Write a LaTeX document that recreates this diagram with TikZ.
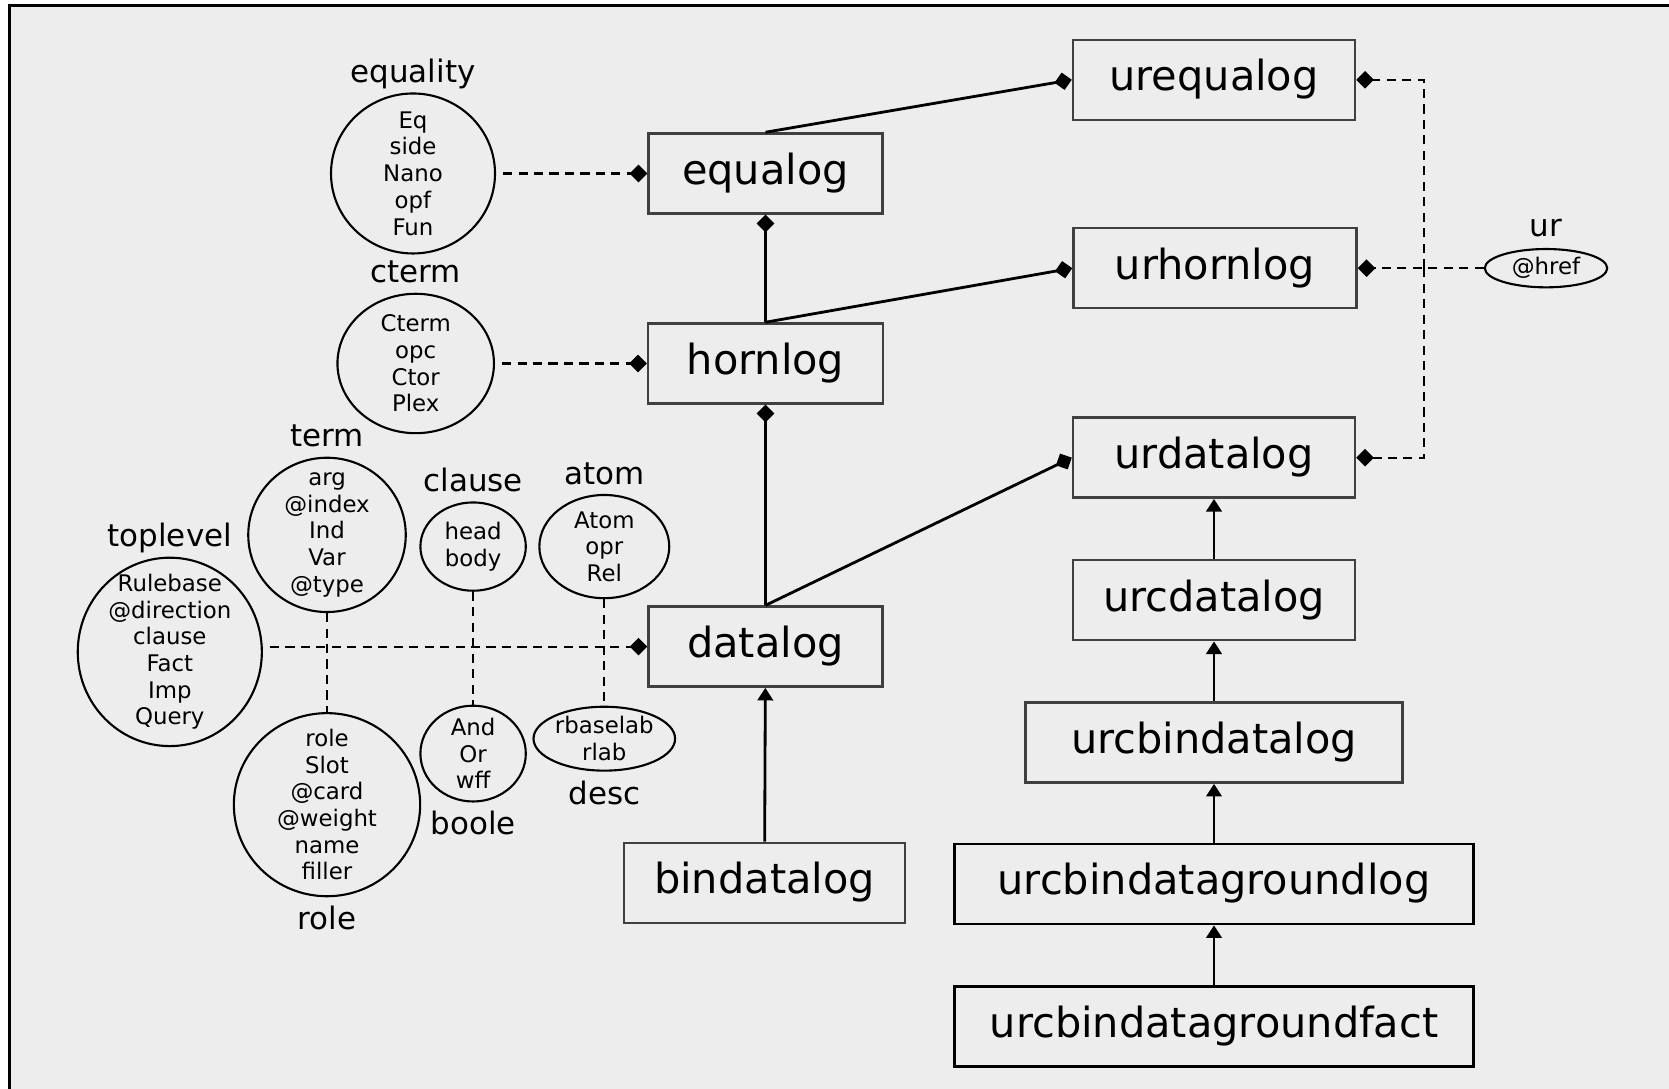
\documentclass[tikz,border=0pt]{standalone}
\usepackage{fontspec}
\setmainfont{DejaVu Sans}
\usetikzlibrary{positioning,arrows.meta,shapes.geometric}
\definecolor{bggray}{RGB}{237,237,237}

\begin{document}
\begin{tikzpicture}[
    logbox/.style={
        draw=black!75, line width=.7pt, fill=bggray, minimum height=.8cm,
        inner sep=0pt, font=\fontsize{11.8pt}{14pt}\selectfont,
        text height=9pt, text depth=2.8pt,
    },
    attrset/.style={
        draw, ellipse, line width=.6pt, inner sep=0pt,
    },
    attrtext/.style={
        align=center, inner sep=0pt, font=\fontsize{6.5pt}{7.6pt}\selectfont,
    },
    setname/.style={
        inner sep=.5pt, font=\fontsize{8.8pt}{10pt}\selectfont,
        text height=6.7pt, text depth=2.1pt,
    },
    part/.style={
        -{Diamond[length=5pt,width=5pt]}, line width=.8pt,
    },
    dashpart/.style={
        -{Diamond[length=5pt,width=5pt]}, line width=.6pt,
        dash pattern=on 2.6pt off 1.8pt,
    },
    dashlink/.style={
        line width=.6pt, dash pattern=on 2.6pt off 1.8pt,
    },
    arrow/.style={
        -{Triangle[length=3.6pt,width=4.4pt]}, line width=.8pt,
    }
]
    \useasboundingbox (0,0) rectangle (16.69,10.89);
    \fill[white] (0,0) rectangle (16.69,10.89);
    \fill[bggray] (0.095,0) rectangle (16.69,10.835);
    \draw[line width=.9pt] (0.095,0) -- (0.095,10.835) -- (16.69,10.835);

    % left column
    \node[logbox, minimum width=2.34cm] at (7.655, 9.155) (equalog) {equalog};
    \node[logbox, minimum width=2.35cm] at (7.655, 7.255) (hornlog) {hornlog};
    \node[logbox, minimum width=2.34cm] at (7.655, 4.424) (datalog) {datalog};
    \node[logbox, minimum width=2.81cm] at (7.645, 2.061) (bindatalog) {bindatalog};

    % right column
    \node[logbox, minimum width=2.82cm] at (12.14, 10.092) (urequalog) {urequalog};
    \node[logbox, minimum width=2.83cm] at (12.15, 8.208) (urhornlog) {urhornlog};
    \node[logbox, minimum width=2.82cm] at (12.14, 6.313) (urdatalog) {urdatalog};
    \node[logbox, minimum width=2.82cm, below=.6 of urdatalog] (urcdatalog) {urcdatalog};
    \node[logbox, minimum width=3.77cm, below=.6 of urcdatalog] (urcbindatalog) {urcbindatalog};
    \node[logbox, draw=black, minimum width=5.19cm, below=.59 of urcbindatalog] (urcbindatagroundlog) {urcbindatagroundlog};
    \node[logbox, draw=black, minimum width=5.19cm, below=.6 of urcbindatagroundlog] (urcbindatagroundfact) {urcbindatagroundfact};

    % attribute sets
    \node[attrset, minimum width=1.64cm, minimum height=1.6cm,
        label={[attrtext]center:Eq\\side\\Nano\\opf\\Fun}] at (4.13, 9.155) (equality) {};
    \node[attrset, minimum width=1.565cm, minimum height=1.394cm,
        label={[attrtext]center:Cterm\\opc\\Ctor\\Plex}] at (4.157, 7.255) (cterm) {};
    \node[attrset, minimum width=1.575cm, minimum height=1.543cm,
        label={[attrtext]center:arg\\@index\\Ind\\Var\\@type}] at (3.27, 5.541) (term) {};
    \node[attrset, minimum width=1.054cm, minimum height=.883cm,
        label={[attrtext]center:head\\body}] at (4.731, 5.424) (clause) {};
    \node[attrset, minimum width=1.299cm, minimum height=1.032cm,
        label={[attrtext]center:Atom\\opr\\Rel}] at (6.043, 5.424) (atom) {};
    \node[attrset, minimum width=1.841cm, minimum height=1.884cm,
        label={[attrtext]center:Rulebase\\@direction\\clause\\Fact\\Imp\\Query}] at (1.698, 4.371) (toplevel) {};
    \node[attrset, minimum width=1.863cm, minimum height=1.831cm,
        label={[attrtext]center:role\\Slot\\@card\\@weight\\name\\filler}] at (3.27, 2.843) (role) {};
    \node[attrset, minimum width=1.054cm, minimum height=.958cm,
        label={[attrtext]center:And\\Or\\wff}] at (4.731, 3.354) (boole) {};
    \node[attrset, minimum width=1.416cm, minimum height=.639cm,
        label={[attrtext]center:rbaselab\\rlab}] at (6.043, 3.503) (desc) {};
    \node[attrset, minimum width=1.224cm, minimum height=.383cm,
        label={[attrtext]center:@href}] at (15.46, 8.208) (ur) {};

    \node[setname, above=0pt of equality] (equalityname) {equality};
    \node[setname, above=0pt of cterm] (ctermname) {cterm};
    \node[setname, above=0pt of term] (termname) {term};
    \node[setname, above=0pt of clause] (clausename) {clause};
    \node[setname, above=0pt of atom] (atomname) {atom};
    \node[setname, above=0pt of toplevel] (toplevelname) {toplevel};
    \node[setname, below=1.8pt of role] (rolename) {role};
    \node[setname, below=1.8pt of boole] (boolename) {boole};
    \node[setname, below=1.8pt of desc] (descname) {desc};
    \node[setname, above=.5pt of ur] (urname) {ur};

    \draw[part] (hornlog.north) -- (equalog.south);
    \draw[part] (equalog.north) -- (urequalog.west);
    \draw[part] (hornlog.north) -- (urhornlog.west);
    \draw[part] (datalog.north) -- (hornlog.south);
    \draw[part] (datalog.north) -- (urdatalog.west);

    \draw[arrow] (bindatalog) -- (datalog);
    \draw[arrow] (urcdatalog) -- (urdatalog);
    \draw[arrow] (urcbindatalog) -- (urcdatalog);
    \draw[arrow] (urcbindatagroundlog) -- (urcbindatalog);
    \draw[arrow] (urcbindatagroundfact) -- (urcbindatagroundlog);

    \draw[dashpart, shorten <=2pt] (equality.east) -- (equalog.west);
    \draw[dashpart, shorten <=2pt] (cterm.east) -- (hornlog.west);
    \draw[dashpart, shorten <=2pt] (toplevel.east |- datalog.west) -- (datalog.west);
    \draw[dashlink] (term) -- (role);
    \draw[dashlink] (clause) -- (boole);
    \draw[dashlink] (atom) -- (desc);

    \coordinate (urbus) at (14.24, 8.208);
    \draw[dashpart] (ur.west) -- (urhornlog.east);
    \draw[dashpart] (urbus) |- (urequalog.east);
    \draw[dashpart] (urbus) |- (urdatalog.east);
\end{tikzpicture}
\end{document}
